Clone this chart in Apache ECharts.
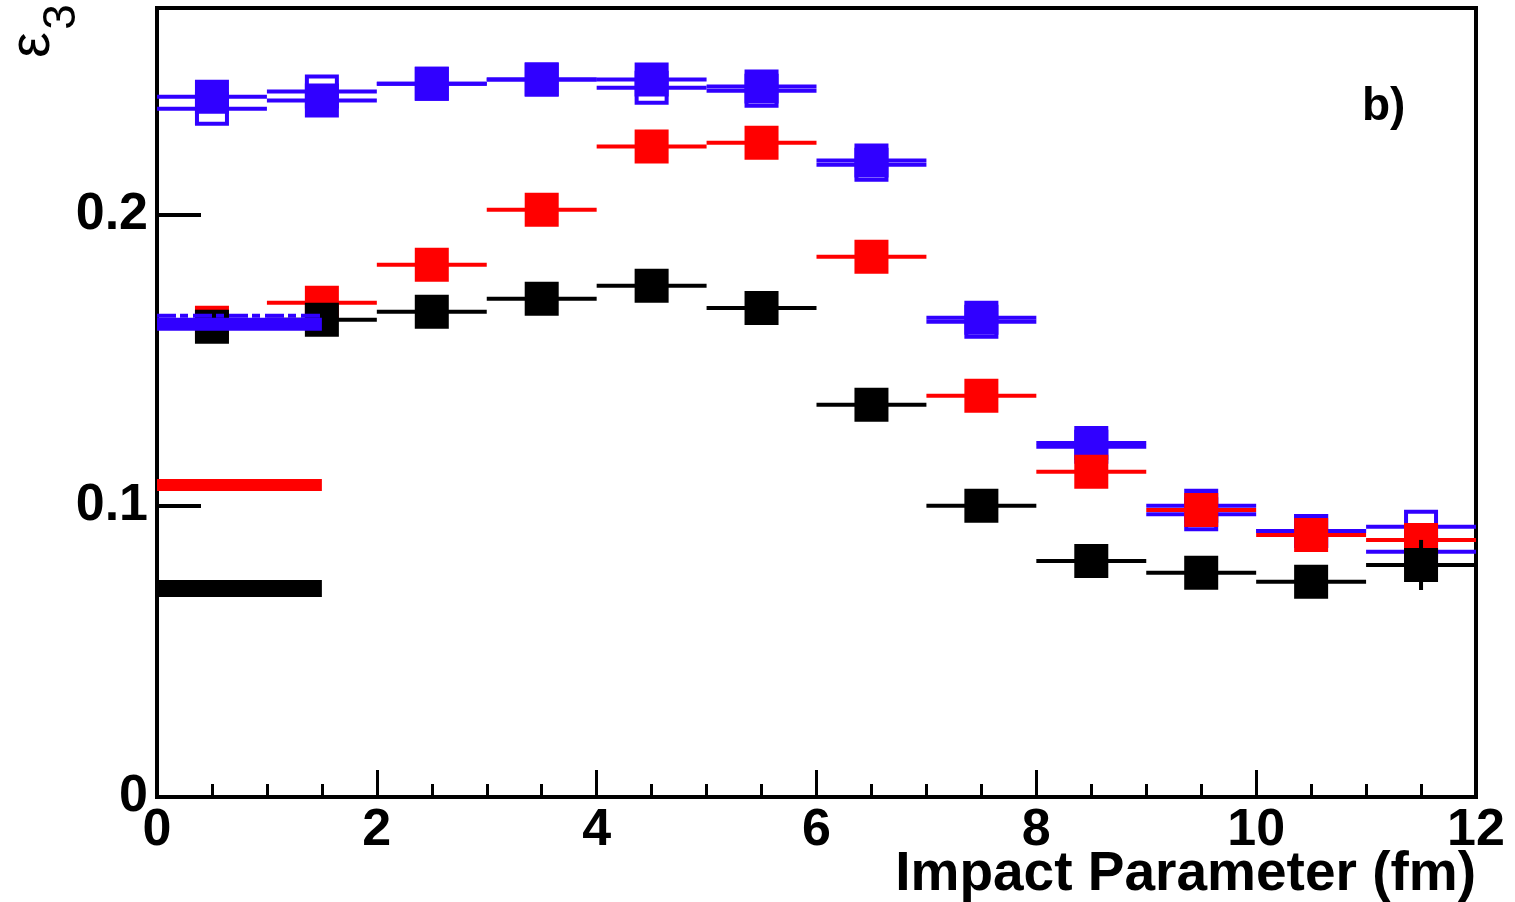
<!DOCTYPE html>
<html><head><meta charset="utf-8">
<script src="https://cdn.jsdelivr.net/npm/echarts@6/dist/echarts.min.js"></script>
<style>html,body{margin:0;padding:0;background:#fff}#c{width:1515px;height:902px}</style>
</head><body><div id="c"></div>
<script>
// ---- data ----
const binCenters = [0.5, 1.5, 2.5, 3.5, 4.5, 5.5, 6.5, 7.5, 8.5, 9.5, 10.5, 11.5];
const binHalfWidth = 0.5;
const blueFilled = [0.2405, 0.2392, 0.2450, 0.2464, 0.2464, 0.2440, 0.2186, 0.1646, 0.1216, 0.1000, 0.0914, 0.0842];
const blueOpen   = [0.2364, 0.2423, 0.2450, 0.2464, 0.2436, 0.2426, 0.2172, 0.1632, 0.1203, 0.0971, 0.0914, 0.0928];
const redFilled  = [0.1629, 0.1698, 0.1828, 0.2017, 0.2234, 0.2247, 0.1856, 0.1378, 0.1117, 0.0986, 0.0900, 0.0883];
const blackFilled= [0.1615, 0.1639, 0.1667, 0.1711, 0.1756, 0.1680, 0.1347, 0.1000, 0.0811, 0.0770, 0.0739, 0.0797];
const blackYErr  = [0, 0, 0, 0, 0, 0, 0, 0, 0, 0, 0, 0.0086];
const bandRange = [0, 1.5];
const blueBand = 0.1624;
const blueBandDots = 0.1653;
const redBand = 0.1072;
const blackBand = 0.0716;
const xTickLabels = [0, 2, 4, 6, 8, 10, 12];
const yTickLabels = [0, 0.1, 0.2];
const xTitle = 'Impact Parameter (fm)';

const BLUE = '#3000ff', RED = '#ff0000', BLACK = '#000000';
const FONT = '"Liberation Sans", Arial, Helvetica, sans-serif';

function markerSeries(name, vals, color, open, yerr) {
  return {
    type: 'custom', name: name,
    clip: false,
    data: binCenters.map((x, i) => [x, vals[i], yerr ? yerr[i] : 0]),
    renderItem: function (params, api) {
      const x = api.value(0), y = api.value(1), e = api.value(2);
      const p0 = api.coord([x - binHalfWidth, y]);
      const p1 = api.coord([x + binHalfWidth, y]);
      const c = api.coord([x, y]);
      const children = [{
        type: 'line', shape: { x1: p0[0], y1: p0[1], x2: p1[0], y2: p1[1] },
        style: { stroke: color, lineWidth: 4 }
      }];
      if (e > 0) {
        const a = api.coord([x, y + e]), b = api.coord([x, y - e]);
        children.push({ type: 'line', shape: { x1: a[0], y1: a[1], x2: b[0], y2: b[1] },
          style: { stroke: color, lineWidth: 4 } });
      }
      const s = 34;
      if (open) {
        children.push({ type: 'rect', shape: { x: c[0] - s / 2 + 2, y: c[1] - s / 2 + 2, width: s - 4, height: s - 4 },
          style: { fill: 'none', stroke: color, lineWidth: 4 } });
      } else {
        children.push({ type: 'rect', shape: { x: c[0] - s / 2, y: c[1] - s / 2, width: s, height: s },
          style: { fill: color } });
      }
      return { type: 'group', children: children };
    }
  };
}

function bandSeries(name, v, color, width, dash) {
  return {
    type: 'line', name: name, symbol: 'none', silent: true,
    data: bandRange.map(x => [x, v]),
    lineStyle: { color: color, width: width, type: dash || 'solid', cap: 'butt' },
    z: 5
  };
}

const chart = echarts.init(document.getElementById('c'), null, { renderer: 'canvas' });
chart.setOption({
  animation: false,
  backgroundColor: '#fff',
  grid: { left: 157, right: 39, top: 8, bottom: 105, containLabel: false, outerBoundsMode: 'none',
    show: true, borderColor: '#000', borderWidth: 4, backgroundColor: 'transparent' },
  xAxis: {
    type: 'value', min: 0, max: 12, interval: 2,
    axisLine: { onZero: false, lineStyle: { color: '#000', width: 4 } },
    axisTick: { inside: true, length: 27, lineStyle: { color: '#000', width: 3 } },
    minorTick: { show: true, splitNumber: 4, length: 13, lineStyle: { color: '#000', width: 3 } },
    splitLine: { show: false },
    axisLabel: { color: '#000', fontSize: 52, fontWeight: 'bold', fontFamily: FONT, margin: 8,
      formatter: v => xTickLabels.indexOf(v) >= 0 ? String(v) : '' }
  },
  yAxis: {
    type: 'value', min: 0, max: 0.271, interval: 0.1,
    axisLine: { onZero: false, lineStyle: { color: '#000', width: 4 } },
    axisTick: { inside: true, length: 44, lineStyle: { color: '#000', width: 4 } },
    splitLine: { show: false },
    axisLabel: { color: '#000', fontSize: 52, fontWeight: 'bold', fontFamily: FONT, margin: 9,
      showMaxLabel: false,
      formatter: v => { const k = yTickLabels.findIndex(t => Math.abs(t - v) < 1e-9); return k < 0 ? '' : (v === 0 ? '0' : v.toFixed(1)); } }
  },
  graphic: [
    { type: 'text', x: 1476, y: 875,
      style: { text: xTitle, fontSize: 55, fontWeight: 'bold', fontFamily: FONT, fill: '#000', align: 'right', verticalAlign: 'middle' } },
    { type: 'text', x: 33, y: 45, rotation: Math.PI / 2,
      style: { text: 'ε', fontSize: 58, fontFamily: FONT, fill: '#000', align: 'center', verticalAlign: 'middle' } },
    { type: 'text', x: 62, y: 17, rotation: Math.PI / 2,
      style: { text: '3', fontSize: 46, fontFamily: FONT, fill: '#000', align: 'center', verticalAlign: 'middle' } },
    { type: 'text', x: 1362, y: 107,
      style: { text: 'b)', fontSize: 46, fontWeight: 'bold', fontFamily: FONT, fill: '#000', align: 'left', verticalAlign: 'middle' } }
  ],
  series: [
    markerSeries('blue open', blueOpen, BLUE, true),
    markerSeries('blue filled', blueFilled, BLUE, false),
    markerSeries('red', redFilled, RED, false),
    markerSeries('black', blackFilled, BLACK, false, blackYErr),
    bandSeries('red band', redBand, RED, 12),
    bandSeries('black band', blackBand, BLACK, 17),
    bandSeries('blue band', blueBand, BLUE, 13),
    bandSeries('blue band dots', blueBandDots, BLUE, 4, [19, 4, 8, 5])
  ]
});
</script>
</body></html>
